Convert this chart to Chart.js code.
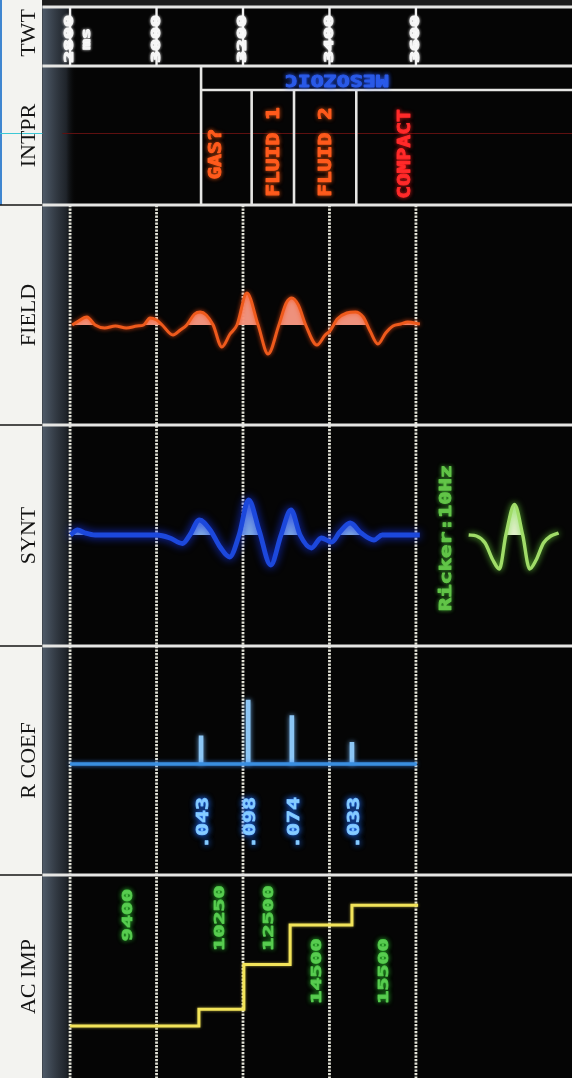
<!DOCTYPE html>
<html><head><meta charset="utf-8">
<script src="https://cdn.jsdelivr.net/npm/chart.js@4.4.1/dist/chart.umd.min.js"></script>
<style>
html,body{margin:0;padding:0;background:#000;}
#wrap{position:relative;width:572px;height:1078px;overflow:hidden;}
canvas{display:block;}
</style></head><body>
<div id="wrap"><canvas id="c" width="572" height="1078"></canvas></div>
<script>
// ================= DATA =================
const trackNames = ['TWT', 'INTPR', 'FIELD', 'SYNT', 'R COEF', 'AC IMP'];
const twtTicks = [2800, 3000, 3200, 3400, 3600];
const twtUnit = 'ms';

const eraLabel = 'MESOZOIC';
const intprBounds = [3103, 3220, 3318, 3462];
const intprZones = ['GAS?', 'FLUID 1', 'FLUID 2', 'COMPACT'];

const fieldTime = [2805, 2816, 2839, 2858, 2880, 2905, 2930, 2955, 2970, 2985, 3000, 3013, 3038, 3055, 3070, 3088, 3101, 3115, 3131, 3151, 3170, 3186, 3209, 3235, 3258, 3283, 3300, 3313, 3328, 3345, 3371, 3390, 3401, 3418, 3440, 3460, 3478, 3494, 3512, 3530, 3547, 3565, 3581, 3609];
const fieldAmp  = [0, 3, 8, 0, -3, -1, -3, -1, 0, 7, 5, 0, -10, -5, 0, 11, 13, 10, 0, -22, -9, 0, 32, 0, -29, 0, 22, 27, 20, 0, -20, -10, -6, 6, 12, 13, 8, -6, -19, -8, -1, 1, 3, 1];

const syntTime = [2801, 2817, 2835, 2858, 3001, 3031, 3060, 3077, 3099, 3124, 3147, 3169, 3191, 3213, 3237, 3264, 3288, 3311, 3332, 3358, 3381, 3405, 3424, 3448, 3473, 3503, 3522, 3609];
const syntAmp  = [0, 5, 2, 0, 0, -3, -8.5, 0, 15, 5, -12, -22, 0, 35, 5, -30, 0, 25, 0, -13, -3, -7, 3, 12, 2, -5, 0, 0];

const rickerLabel = 'Ricker:10Hz';
const rickerTime = [3722, 3740, 3760, 3778, 3793, 3808, 3828, 3847, 3863, 3878, 3895, 3912, 3930];
const rickerAmp  = [0, -1, -8, -25, -34, 0, 30.5, 0, -34, -25, -8, -1, 2];

const rcSpan   = [2800, 3602];
const rcTime   = [3103, 3212, 3313, 3452];
const rcValue  = [0.043, 0.098, 0.074, 0.033];
const rcLabels = ['.043', '.098', '.074', '.033'];

const aiTops   = [2800, 3098, 3202, 3309, 3452];
const aiBase   = 3605;
const aiValues = [9400, 10250, 12500, 14500, 15500];

// ================= LAYOUT / STYLE =================
const STACK_H = [66, 139, 220, 221, 229, 203];
const MONO = '"DejaVu Sans Mono", monospace';
const LINE_WHITE = '#e6e6e4';
const POS = {
  twtLabelY: 39, unitT: 2839,
  eraT: 3417, eraDY: 13, boxSplitDY: 24,
  zoneText: [{t: 3139, dy: 88}, {t: 3274, dy: 86}, {t: 3393, dy: 86}, {t: 3575, dy: 88}],
  rickerT: 3672, rickerDY: 113,
  rcDX: 3, rcDY: 177,
  aiText: [{t: 2934, dy: 40}, {t: 3147, dy: 43}, {t: 3262, dy: 43}, {t: 3373, dy: 96}, {t: 3528, dy: 96}]
};
const GLOW = {
  FIELD: {c: 'rgba(255,80,20,0.8)', b: 4},
  SYNT: {c: 'rgba(20,50,230,1)', b: 8},
  RICKER: {c: 'rgba(110,220,60,0.9)', b: 6},
  RCB: {c: 'rgba(60,140,255,0.8)', b: 4},
  RCS: {c: 'rgba(120,190,255,0.9)', b: 5},
  AI: {c: 'rgba(255,240,80,0.6)', b: 3}
};

const zip = (a, b) => a.map((v, i) => ({x: v, y: b[i]}));

function vText(ctx, txt, x, y, o) {
  ctx.save();
  ctx.translate(x, y);
  ctx.rotate(o.rot !== undefined ? o.rot : -Math.PI / 2);
  ctx.scale(o.sx || 1, 1);
  ctx.font = 'bold ' + o.size + 'px ' + MONO;
  ctx.textAlign = 'center';
  ctx.textBaseline = 'middle';
  if (o.glow) { ctx.shadowColor = o.glow; ctx.shadowBlur = o.blur || 5; }
  ctx.fillStyle = o.color;
  ctx.strokeStyle = o.color;
  ctx.lineWidth = 0.9;
  ctx.lineJoin = 'round';
  ctx.strokeText(txt, 0, 0);
  ctx.fillText(txt, 0, 0);
  ctx.restore();
}
function seg(ctx, x1, y1, x2, y2) {
  ctx.beginPath(); ctx.moveTo(x1, y1); ctx.lineTo(x2, y2); ctx.stroke();
}

const framePlugin = {
  id: 'frame',
  beforeDraw(chart) {
    const {ctx, chartArea: ca, width, height} = chart;
    const yI = chart.scales.yI;
    ctx.save();
    ctx.fillStyle = '#f3f3f0';
    ctx.fillRect(0, 0, ca.left, height);
    ctx.fillStyle = '#050505';
    ctx.fillRect(ca.left, 0, width - ca.left, height);
    ctx.fillStyle = '#1c1c1c';
    ctx.fillRect(ca.left, 0, width - ca.left, 6);
    const g = ctx.createLinearGradient(ca.left, 0, ca.left + 34, 0);
    g.addColorStop(0, 'rgba(80,92,106,1)');
    g.addColorStop(0.7, 'rgba(38,44,52,0.8)');
    g.addColorStop(1, 'rgba(5,5,5,0)');
    ctx.fillStyle = g;
    ctx.fillRect(ca.left, 6, 34, height - 6);
    ctx.strokeStyle = '#3f86d0'; ctx.lineWidth = 2;
    seg(ctx, 1, 0, 1, chart.scales.yF.top);
    const ya = (yI.top + yI.bottom) / 2 - 2;
    ctx.strokeStyle = '#3cc8d6'; ctx.lineWidth = 1;
    seg(ctx, 0, ya, ca.left, ya);
    ctx.strokeStyle = '#5e1010';
    seg(ctx, ca.left + 20, ya, width, ya);
    ctx.strokeStyle = '#151515'; ctx.lineWidth = 1.6;
    ['yF', 'yS', 'yR', 'yA'].forEach(id => {
      const y = chart.scales[id].top;
      seg(ctx, 0, y, ca.left, y);
    });
    ctx.restore();
  },
  beforeDatasetsDraw(chart) {
    const {ctx, chartArea: ca, width, scales} = chart;
    const X = scales.x, px = t => X.getPixelForValue(t);
    ctx.save();
    ctx.setLineDash([2.2, 1.3]);
    ctx.lineWidth = 2.8;
    ctx.strokeStyle = '#e4e4d8';
    twtTicks.forEach(t => seg(ctx, px(t), scales.yF.top, px(t), ca.bottom));
    ctx.setLineDash([]);
    ctx.strokeStyle = LINE_WHITE; ctx.lineWidth = 3;
    [scales.yT.top + 7, scales.yI.top, scales.yF.top, scales.yS.top, scales.yR.top, scales.yA.top]
      .forEach(y => seg(ctx, ca.left, y, width, y));
    ctx.lineWidth = 2.4; ctx.strokeStyle = '#f0f0f0';
    twtTicks.forEach(t => seg(ctx, px(t), scales.yT.top + 7, px(t), scales.yT.bottom));
    const yI = scales.yI, split = yI.top + POS.boxSplitDY;
    ctx.lineWidth = 2.6; ctx.strokeStyle = LINE_WHITE;
    seg(ctx, px(intprBounds[0]), yI.top, px(intprBounds[0]), yI.bottom);
    seg(ctx, px(intprBounds[0]), split, width, split);
    intprBounds.slice(1).forEach(t => seg(ctx, px(t), split, px(t), yI.bottom));
    ctx.restore();
  },
  beforeDatasetDraw(chart, args) {
    const g = GLOW[args.meta._dataset.label];
    chart.ctx.save();
    if (g) { chart.ctx.shadowColor = g.c; chart.ctx.shadowBlur = g.b; }
  },
  afterDatasetDraw(chart) {
    chart.ctx.restore();
  },
  afterDatasetsDraw(chart) {
    const {ctx, scales} = chart;
    const X = scales.x, px = t => X.getPixelForValue(t);
    twtTicks.forEach(t => vText(ctx, String(t), px(t), scales.yT.top + POS.twtLabelY,
      {size: 12, sx: 1.65, color: '#f6f6f6', glow: 'rgba(255,255,255,0.8)', blur: 3}));
    vText(ctx, twtUnit, px(POS.unitT), scales.yT.top + POS.twtLabelY,
      {size: 12, sx: 1.5, color: '#f6f6f6', glow: 'rgba(255,255,255,0.8)', blur: 3});
    const yI = scales.yI;
    vText(ctx, eraLabel, px(POS.eraT), yI.top + POS.eraDY,
      {rot: Math.PI, size: 16, sx: 1.35, color: '#2a5ae6', glow: 'rgba(40,90,255,0.9)', blur: 4});
    intprZones.forEach((z, i) => {
      const p = POS.zoneText[i];
      const red = i === intprZones.length - 1;
      vText(ctx, z, px(p.t), yI.top + p.dy,
        {size: 17, sx: 1.25, color: red ? '#ff2a2a' : '#ff5a1c', glow: red ? 'rgba(255,30,30,0.7)' : 'rgba(255,90,20,0.7)', blur: 4});
    });
    vText(ctx, rickerLabel, px(POS.rickerT), scales.yS.top + POS.rickerDY,
      {size: 16, sx: 1.38, color: '#62c448', glow: 'rgba(80,200,60,0.7)', blur: 4});
    rcLabels.forEach((l, i) => vText(ctx, l, px(rcTime[i]) + POS.rcDX, scales.yR.top + POS.rcDY,
      {size: 16, sx: 1.35, color: '#86ccff', glow: 'rgba(30,110,255,1)', blur: 6}));
    aiValues.forEach((v, i) => {
      const p = POS.aiText[i];
      vText(ctx, String(v), px(p.t), scales.yA.top + p.dy,
        {size: 14, sx: 1.55, color: '#58cc50', glow: 'rgba(40,170,40,0.9)', blur: 5});
    });
  }
};

function yAxis(i, min, max) {
  return {
    type: 'linear', position: 'left', stack: 'tracks', stackWeight: STACK_H[i],
    min: min, max: max,
    ticks: {display: false},
    grid: {display: false, drawTicks: false},
    border: {display: false},
    title: {
      display: true, text: trackNames[i], color: '#141414',
      font: {family: '"Liberation Serif", "Times New Roman", serif', size: 22, weight: 'normal'},
      padding: {top: 16, bottom: 0}
    }
  };
}

const aiPoints = aiTops.map((t, i) => ({x: t, y: aiValues[i]}))
  .concat([{x: aiBase, y: aiValues[aiValues.length - 1]}]);

new Chart(document.getElementById('c'), {
  type: 'line',
  data: {
    datasets: [
      {
        label: 'FIELD', yAxisID: 'yF', data: zip(fieldTime, fieldAmp),
        borderColor: '#ee5a1c', borderWidth: 3, pointRadius: 0,
        cubicInterpolationMode: 'monotone',
        fill: {target: {value: 0}, above: 'rgba(246,150,128,0.97)', below: 'rgba(0,0,0,0)'}
      },
      {
        label: 'SYNT', yAxisID: 'yS', data: zip(syntTime, syntAmp),
        borderColor: '#1c48dc', borderWidth: 4.8, pointRadius: 0,
        cubicInterpolationMode: 'monotone',
        fill: {target: {value: 0}, above: 'rgba(140,184,236,0.95)', below: 'rgba(0,0,0,0)'}
      },
      {
        label: 'RICKER', yAxisID: 'yS', data: zip(rickerTime, rickerAmp),
        borderColor: '#a0dc68', borderWidth: 3.4, pointRadius: 0,
        cubicInterpolationMode: 'monotone',
        fill: {target: {value: 0}, above: 'rgba(236,248,214,0.97)', below: 'rgba(0,0,0,0)'}
      },
      {
        label: 'RCB', yAxisID: 'yR', data: rcSpan.map(t => ({x: t, y: 0})),
        borderColor: '#3a8ee0', borderWidth: 3.5, pointRadius: 0, fill: false
      },
      {
        type: 'bar', label: 'RCS', yAxisID: 'yR', data: zip(rcTime, rcValue),
        backgroundColor: '#8cc6f4', borderWidth: 0, barThickness: 4
      },
      {
        label: 'AI', yAxisID: 'yA', data: aiPoints, stepped: 'before',
        borderColor: '#f2e45a', borderWidth: 3, pointRadius: 0, fill: false
      }
    ]
  },
  options: {
    responsive: false, animation: false, devicePixelRatio: 1,
    layout: {padding: 0},
    plugins: {legend: {display: false}, tooltip: {enabled: false}},
    scales: {
      x: {type: 'linear', min: 2736, max: 3961, display: false, offset: false},
      // stacked tracks are laid out bottom-up, so list them from the bottom track
      yA: yAxis(5, 6774, 17026),
      yR: yAxis(4, -0.170, 0.1807),
      yS: yAxis(3, -111, 110),
      yF: yAxis(2, -100, 120),
      yI: yAxis(1, 0, 1),
      yT: yAxis(0, 0, 1)
    }
  },
  plugins: [framePlugin]
});
</script>
</body></html>
